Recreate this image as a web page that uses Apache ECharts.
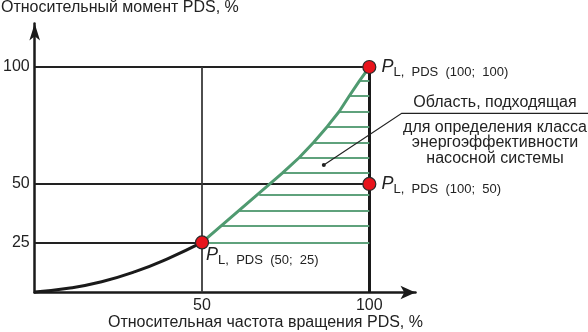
<!DOCTYPE html>
<html><head><meta charset="utf-8">
<script src="https://cdn.jsdelivr.net/npm/echarts@6/dist/echarts.min.js"></script>
<style>html,body{margin:0;padding:0;background:#fff}#c{width:588px;height:332px}</style>
</head><body><div id="c"></div>
<script>
const xTicks = [50, 100];
const yTicks = [25, 50, 100];
const baseCurveX = [0, 10, 20, 30, 40, 50];
const baseCurveY = [3.8, 5.4, 8.2, 12.5, 18.2, 25];
const boundaryX = [50, 74, 79, 83.4, 87.4, 91, 94, 97, 100];
const boundaryY = [25, 54.6, 61.2, 67.8, 74.5, 81, 87.6, 94, 100];
const hatchY = [25, 32.1, 38.6, 45.3, 54.6, 61.2, 67.8, 74.5, 80.9, 87.6, 94.0];
const hatchX0 = [50, 55.7, 61.1, 67.1, 74.2, 79.0, 83.4, 87.4, 90.9, 93.8, 96.8];
const pointX = [100, 100, 50];
const pointY = [100, 50, 25];
const pointLabels = ['(100;  100)', '(100;  50)', '(50;  25)'];
const xTitle = 'Относительная частота вращения PDS, %';
const yTitle = 'Относительный момент PDS, %';
const noteTitle = 'Область, подходящая';
const noteBody = 'для определения класса\nэнергоэффективности\nнасосной системы';
const noteAnchor = [86.4, 58.1];

const FONT = "'Liberation Sans', Arial, sans-serif";
const yMin = 3.6, yMax = 118.6, xMax = 113.8;
const topTick = yTicks[yTicks.length - 1];

const refLines = [];
pointX.forEach((x, i) => {
  refLines.push({coords: [[0, pointY[i]], [x, pointY[i]]], lineStyle: {width: 2.2, color: '#222', opacity: 1}});
});
xTicks.forEach((x, i) => {
  const last = i === xTicks.length - 1;
  refLines.push({coords: [[x, topTick], [x, yMin]], lineStyle: {width: last ? 3 : 1.8, color: last ? '#1a1a1a' : '#3a3a3a', opacity: 1}});
});
const hatchLines = hatchY.map((y, i) => ({coords: [[hatchX0[i], y], [pointX[0], y]]}));

const chart = echarts.init(document.getElementById('c'));
chart.setOption({
  animation: false,
  grid: {left: 33, right: 172.5, top: 23.5, bottom: 39.5},
  xAxis: {
    type: 'value', min: 0, max: xMax,
    axisLine: {show: true, symbol: ['none', 'arrow'], symbolSize: [10, 15], lineStyle: {color: '#1a1a1a', width: 2.5}},
    axisTick: {show: false}, splitLine: {show: false},
    axisLabel: {customValues: xTicks, fontSize: 16, color: '#222', fontFamily: FONT, margin: 5}
  },
  yAxis: {
    type: 'value', min: yMin, max: yMax,
    axisLine: {show: true, symbol: ['none', 'arrow'], symbolSize: [8, 17], lineStyle: {color: '#1a1a1a', width: 2.5}},
    axisTick: {show: false}, splitLine: {show: false},
    axisLabel: {customValues: yTicks, fontSize: 16, color: '#222', fontFamily: FONT, margin: 5}
  },
  series: [
    {type: 'lines', coordinateSystem: 'cartesian2d', z: 1, silent: true, lineStyle: {opacity: 1}, data: refLines},
    {type: 'lines', coordinateSystem: 'cartesian2d', z: 2, silent: true, lineStyle: {color: '#5fa27c', width: 1.8, opacity: 1}, data: hatchLines},
    {type: 'line', z: 3, symbol: 'none', lineStyle: {color: '#4f9a70', width: 3}, data: boundaryX.map((x, i) => [x, boundaryY[i]])},
    {type: 'line', z: 3, symbol: 'none', smooth: true, lineStyle: {color: '#1a1a1a', width: 3}, data: baseCurveX.map((x, i) => [x, baseCurveY[i]])},
    {
      type: 'scatter', z: 5, symbol: 'circle', symbolSize: 13,
      itemStyle: {color: '#e8141c', borderColor: '#2a2a2a', borderWidth: 1.2, opacity: 1},
      label: {
        show: true, position: 'right', distance: 5,
        formatter: p => '{p|P}{s|L,  PDS  ' + pointLabels[p.dataIndex] + '}',
        rich: {
          p: {fontFamily: FONT, fontStyle: 'italic', fontSize: 18, color: '#222', lineHeight: 18},
          s: {fontFamily: FONT, fontSize: 13, color: '#222', lineHeight: 13, padding: [10, 0, 0, 0]}
        }
      },
      data: pointX.map((x, i) => {
        const d = {value: [x, pointY[i]]};
        if (i === 2) d.label = {offset: [-8, 13]};
        return d;
      })
    }
  ]
});
const a = chart.convertToPixel({gridIndex: 0}, noteAnchor);
chart.setOption({
  graphic: [
    {type: 'text', left: 1, top: 0, style: {text: yTitle, font: '16px ' + FONT, fill: '#222'}},
    {type: 'text', x: 108, y: 323, style: {text: xTitle, font: '16px ' + FONT, fill: '#222', textAlign: 'left', textVerticalAlign: 'middle'}},
    {type: 'text', x: 495, y: 102.5, style: {text: noteTitle, font: '16px ' + FONT, fill: '#222', textAlign: 'center', textVerticalAlign: 'middle'}},
    {type: 'text', x: 495, y: 143, style: {text: noteBody, font: '16px ' + FONT, fill: '#222', textAlign: 'center', textVerticalAlign: 'middle', lineHeight: 15.8}},
    {type: 'polyline', z: 10, shape: {points: [[588, 113.3], [401.7, 113.3], a]}, style: {stroke: '#222', lineWidth: 1.2, fill: null}},
    {type: 'circle', z: 10, shape: {cx: a[0], cy: a[1], r: 2}, style: {fill: '#222'}}
  ]
});
</script></body></html>
